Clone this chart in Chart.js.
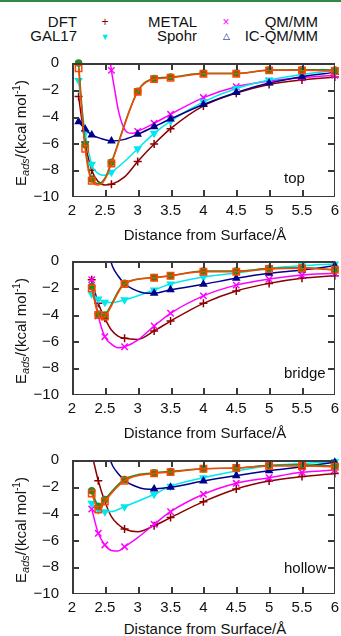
<!DOCTYPE html>
<html>
<head>
<meta charset="utf-8">
<script src="https://cdn.jsdelivr.net/npm/chart.js@4.4.1/dist/chart.umd.min.js"></script>
<style>
  body { margin: 0; width: 341px; height: 636px; position: relative; overflow: hidden; background: #fff;
         font-family: "Liberation Sans", Arial, sans-serif; color: #111; }
  .bar { position: absolute; left: 0; top: 0; width: 341px; height: 2px; background: #2f8a48; }
  canvas { position: absolute; left: 0; }
  .t { position: absolute; font-size: 15px; line-height: 18px; white-space: nowrap; }
  .r { text-align: right; }
  .sym { position: absolute; font-size: 12px; line-height: 14px; transform: translate(-50%, -50%); }
  .ytitle { position: absolute; left: 21px; font-size: 15px; white-space: nowrap; transform: translate(-50%, -50%) rotate(-90deg); }
  .ytitle sub { font-style: italic; font-size: 11px; vertical-align: -3px; }
  .ytitle sup { font-size: 10px; vertical-align: 6px; }
  .xtitle { position: absolute; left: 205px; font-size: 15px; white-space: nowrap; transform: translate(-50%, -50%); }
  .fr { position: absolute; background: #3a3a3a; z-index: 5; }
</style>
</head>
<body>
<div class="bar"></div>

<div class="t r" style="right:264px;top:13px">DFT</div>
<div class="sym" style="left:105px;top:22px;color:#8b0000">+</div>
<div class="t r" style="right:144px;top:13px">METAL</div>
<div class="sym" style="left:226px;top:22px;color:#ff00ff">×</div>
<div class="t r" style="right:23px;top:13px">QM/MM</div>
<div class="sym" style="left:347px;top:22px;color:#228b22">●</div>
<div class="t r" style="right:264px;top:27px">GAL17</div>
<div class="sym" style="left:105px;top:37px;color:#00e8ee;font-size:9px">▼</div>
<div class="t r" style="right:144px;top:27px">Spohr</div>
<div class="sym" style="left:226px;top:36px;color:#00008b;font-size:9px">△</div>
<div class="t r" style="right:23px;top:27px">IC-QM/MM</div>
<div class="sym" style="left:347px;top:36px;color:#ff4500">□</div>

<canvas id="c1" width="344" height="178" style="top:41px"></canvas>
<canvas id="c2" width="344" height="178" style="top:239px"></canvas>
<canvas id="c3" width="344" height="178" style="top:438px"></canvas>

<div class="ytitle" style="top:133px">E<sub>ads</sub>/(kcal mol<sup>-1</sup>)</div>
<div class="ytitle" style="top:331px">E<sub>ads</sub>/(kcal mol<sup>-1</sup>)</div>
<div class="ytitle" style="top:530px">E<sub>ads</sub>/(kcal mol<sup>-1</sup>)</div>

<div class="xtitle" style="top:234px">Distance from Surface/Å</div>
<div class="xtitle" style="top:432px">Distance from Surface/Å</div>
<div class="xtitle" style="top:628px">Distance from Surface/Å</div>

<div class="t" style="left:284px;top:169px">top</div>
<div class="t" style="left:284px;top:364px">bridge</div>
<div class="t" style="left:284px;top:559px">hollow</div>

<script>
const xTicks = [2, 2.5, 3, 3.5, 4, 4.5, 5, 5.5, 6];
const yTicks = [0, -2, -4, -6, -8, -10];

// distances sampled on each site
const topX = [2.1, 2.2, 2.3, 2.6, 3.0, 3.25, 3.5, 4, 4.5, 5, 5.5, 6];
const siteX = [2.3, 2.4, 2.5, 2.8, 3.25, 3.5, 4, 4.5, 5, 5.5, 6];

// top site
const topDFT   = [-2.5, -5.9, -8.0, -9.05, -7.35, -6.05, -4.9, -3.2, -2.25, -1.6, -1.27, -1.05];
const topMETAL = [null, null, null, -0.55, -5.1, -4.5, -3.83, -2.58, -1.77, -1.34, -1.1, -0.92];
const topGAL17 = [-1.3, -5.2, -7.55, -8.15, -6.4, -5.25, -4.33, -2.9, -1.9, -1.27, -0.85, -0.55];
const topSpohr = [-4.38, -4.93, -5.37, -5.82, -5.32, -4.75, -4.18, -3.1, -2.2, -1.5, -1.02, -0.7];
const topQMMM  = [0.0, -6.1, -8.65, -7.4, -2.1, -1.15, -1.05, -0.77, -0.77, -0.52, -0.5, -0.52];
const topIC    = [-0.4, -6.4, -8.8, -7.5, -2.15, -1.2, -1.1, -0.8, -0.8, -0.55, -0.55, -0.6];

// bridge site
const brDFT   = [-1.4, -3.16, -4.28, -5.77, -5.22, -4.48, -3.16, -2.24, -1.67, -1.29, -1.1];
const brMETAL = [-1.4, -4.1, -5.65, -6.4, -4.85, -3.9, -2.6, -1.8, -1.35, -1.05, -0.92];
const brGAL17 = [-2.46, -2.84, -3.08, -2.9, -2.16, -1.72, -1.2, -0.9, -0.55, -0.35, -0.22];
const brSpohr = [null, null, null, null, -2.4, -2.15, -1.74, -1.29, -0.92, -0.67, -0.35];
const brQMMM  = [-1.9, -3.95, -4.03, -1.66, -1.24, -1.1, -0.75, -0.75, -0.55, -0.5, -0.67];
const brIC    = [-2.04, -4.03, -4.15, -1.72, -1.25, -1.1, -0.8, -0.8, -0.6, -0.55, -0.65];

// hollow site
const hoDFT   = [null, -1.55, null, -5.15, -4.9, -4.3, -3.11, -2.16, -1.57, -1.24, -1.0];
const hoMETAL = [-3.66, -5.47, -6.34, -6.47, -4.8, -3.86, -2.56, -1.74, -1.32, -0.92, -0.75];
const hoGAL17 = [-3.23, -3.73, -3.86, -3.48, -2.56, -1.95, -1.32, -0.82, -0.43, -0.26, -0.12];
const hoSpohr = [null, null, null, null, -2.16, -2.04, -1.57, -1.17, -0.8, -0.5, -0.17];
const hoQMMM  = [-2.3, -3.45, -2.95, -1.45, -0.95, -0.85, -0.65, -0.6, -0.4, -0.35, -0.45];
const hoIC    = [-2.5, -3.7, -3.1, -1.55, -1.0, -0.9, -0.65, -0.6, -0.45, -0.45, -0.5];

// extra points (between / outside the data)
const topDFTFit   = [[2.4, -8.85], [2.5, -9.1], [2.8, -8.5]];
const topMETALFit = [[2.56, 1.0], [2.65, -2.0], [2.7, -3.4], [2.78, -4.75], [2.85, -5.2], [2.92, -5.25]];
const topGAL17Fit = [[2.4, -8.25], [2.5, -8.38], [2.8, -7.35]];
const topSpohrFit = [[2.45, -5.65], [2.8, -5.7]];
const topQMMMFit  = [[2.4, -9.0], [2.5, -8.6]];
const topICFit    = [[2.4, -9.1], [2.5, -8.7]];

const brDFTFit   = [[2.6, -5.15], [2.7, -5.6], [3.0, -5.85]];
const brMETALFit = [[2.6, -6.2], [2.7, -6.47], [3.0, -5.9]];
const brGAL17Fit = [[2.6, -3.1]];
const brSpohrFit = [[2.57, 0.3], [2.62, -0.45], [2.7, -1.1], [2.8, -1.7], [2.93, -2.1], [3.1, -2.38]];
const brQMMMFit  = [[2.45, -4.2]];
const brICFit    = [[2.45, -4.25]];

const hoDFTFit   = [[2.31, 0.3], [2.5, -3.1], [2.6, -4.23], [2.7, -4.8], [3.0, -5.35]];
const hoMETALFit = [[2.6, -6.75], [2.7, -6.8], [3.0, -5.8]];
const hoGAL17Fit = [[2.6, -3.85]];
const hoSpohrFit = [[2.56, 0.3], [2.62, -0.45], [2.7, -1.0], [2.83, -1.62], [3.05, -2.11], [3.18, -2.19]];
const hoQMMMFit  = [[2.42, -3.5]];
const hoICFit    = [[2.42, -3.72]];

const styles = [
  { label: 'DFT',      color: '#8b0000', point: 'cross',    radius: 4,   fill: true,  order: 6 },
  { label: 'METAL',    color: '#ff00ff', point: 'crossRot', radius: 4.5, fill: true,  order: 5 },
  { label: 'GAL17',    color: '#00e8ee', point: 'triangle', radius: 3.5, fill: true,  order: 4, rotation: 180 },
  { label: 'Spohr',    color: '#00008b', point: 'triangle', radius: 3.5, fill: true,  order: 3 },
  { label: 'QM/MM',    color: '#228b22', point: 'circle',   radius: 3,   fill: true,  order: 2 },
  { label: 'IC-QM/MM', color: '#ff4500', point: 'rect',     radius: 4.5, fill: false, order: 1 },
];

function pairs(xs, ys) {
  return xs.map((x, i) => ({ x, y: ys[i] })).filter((p) => p.y !== null);
}

function curve(xs, ys, extra) {
  return pairs(xs, ys).concat(extra.map(([x, y]) => ({ x, y }))).sort((a, b) => a.x - b.x);
}

function datasets(xs, values, fits) {
  const out = [];
  styles.forEach((s, i) => {
    out.push({
      label: s.label + ' fit',
      data: curve(xs, values[i], fits[i]),
      showLine: true,
      borderColor: s.color,
      borderWidth: 1.5,
      pointRadius: 0,
      cubicInterpolationMode: 'monotone',
      clip: 0,
      order: s.order * 2,
    });
    out.push({
      label: s.label,
      data: pairs(xs, values[i]),
      showLine: false,
      pointStyle: s.point,
      pointRadius: s.radius,
      rotation: s.rotation || 0,
      borderColor: s.color,
      backgroundColor: s.fill ? s.color : 'rgba(0,0,0,0)',
      pointBorderWidth: 1.5,
      clip: false,
      order: s.order * 2 - 1,
    });
  });
  return out;
}

// gnuplot style frame with inward ticks, placed from the chart's own scales
function addFrame(chart) {
  const a = chart.chartArea;
  const x = chart.scales.x;
  const y = chart.scales.y;
  const top0 = chart.canvas.offsetTop;
  const left0 = chart.canvas.offsetLeft;
  const w = 1.5;
  const add = (l, t, wd, ht) => {
    const d = document.createElement('div');
    d.className = 'fr';
    d.style.left = (left0 + l) + 'px';
    d.style.top = (top0 + t) + 'px';
    d.style.width = wd + 'px';
    d.style.height = ht + 'px';
    document.body.appendChild(d);
  };
  const L = Math.round(a.left);
  const R = Math.round(a.right);
  const T = Math.round(a.top);
  const B = Math.round(a.bottom);
  add(L, T, R - L, w);
  add(L, B - w, R - L, w);
  add(L, T, w, B - T);
  add(R - w, T, w, B - T);
  xTicks.forEach((v) => {
    const px = Math.min(R - w, Math.round(x.getPixelForValue(v)));
    add(px, B - 7, w, 7);
    add(px, T, w, 7);
  });
  yTicks.forEach((v) => {
    const py = Math.min(B - w, Math.round(y.getPixelForValue(v)));
    add(L, py, 7, w);
    add(R - 7, py, 7, w);
  });
}

const font = { family: '"Liberation Sans", Arial, sans-serif', size: 15 };

function makeChart(id, xs, values, fits) {
  const chart = new Chart(document.getElementById(id), {
    type: 'scatter',
    data: { datasets: datasets(xs, values, fits) },
    options: {
      responsive: false,
      animation: false,
      events: [],
      layout: { padding: { top: 10, right: 6, left: 0, bottom: 0 } },
      plugins: { legend: { display: false }, tooltip: { enabled: false } },
      scales: {
        x: {
          type: 'linear', min: 2, max: 6,
          afterBuildTicks: (scale) => { scale.ticks = xTicks.map((v) => ({ value: v })); },
          afterFit: (scale) => { scale.height = 22; },
          ticks: { autoSkip: false, maxRotation: 0, padding: 5, color: '#111', font, callback: (v) => String(v) },
          grid: { display: false, drawTicks: false },
          border: { display: false },
        },
        y: {
          type: 'linear', min: -10, max: 0,
          afterBuildTicks: (scale) => { scale.ticks = yTicks.map((v) => ({ value: v })); },
          afterFit: (scale) => { scale.width = 72; },
          ticks: {
            padding: 13, color: '#111', font,
            callback: (v) => (v < 0 ? '\u2212' + Math.abs(v) : String(v)),
          },
          grid: { display: false, drawTicks: false },
          border: { display: false },
        },
      },
    },
  });
  addFrame(chart);
  return chart;
}

makeChart('c1', topX,
  [topDFT, topMETAL, topGAL17, topSpohr, topQMMM, topIC],
  [topDFTFit, topMETALFit, topGAL17Fit, topSpohrFit, topQMMMFit, topICFit]);
makeChart('c2', siteX,
  [brDFT, brMETAL, brGAL17, brSpohr, brQMMM, brIC],
  [brDFTFit, brMETALFit, brGAL17Fit, brSpohrFit, brQMMMFit, brICFit]);
makeChart('c3', siteX,
  [hoDFT, hoMETAL, hoGAL17, hoSpohr, hoQMMM, hoIC],
  [hoDFTFit, hoMETALFit, hoGAL17Fit, hoSpohrFit, hoQMMMFit, hoICFit]);
</script>
</body>
</html>
